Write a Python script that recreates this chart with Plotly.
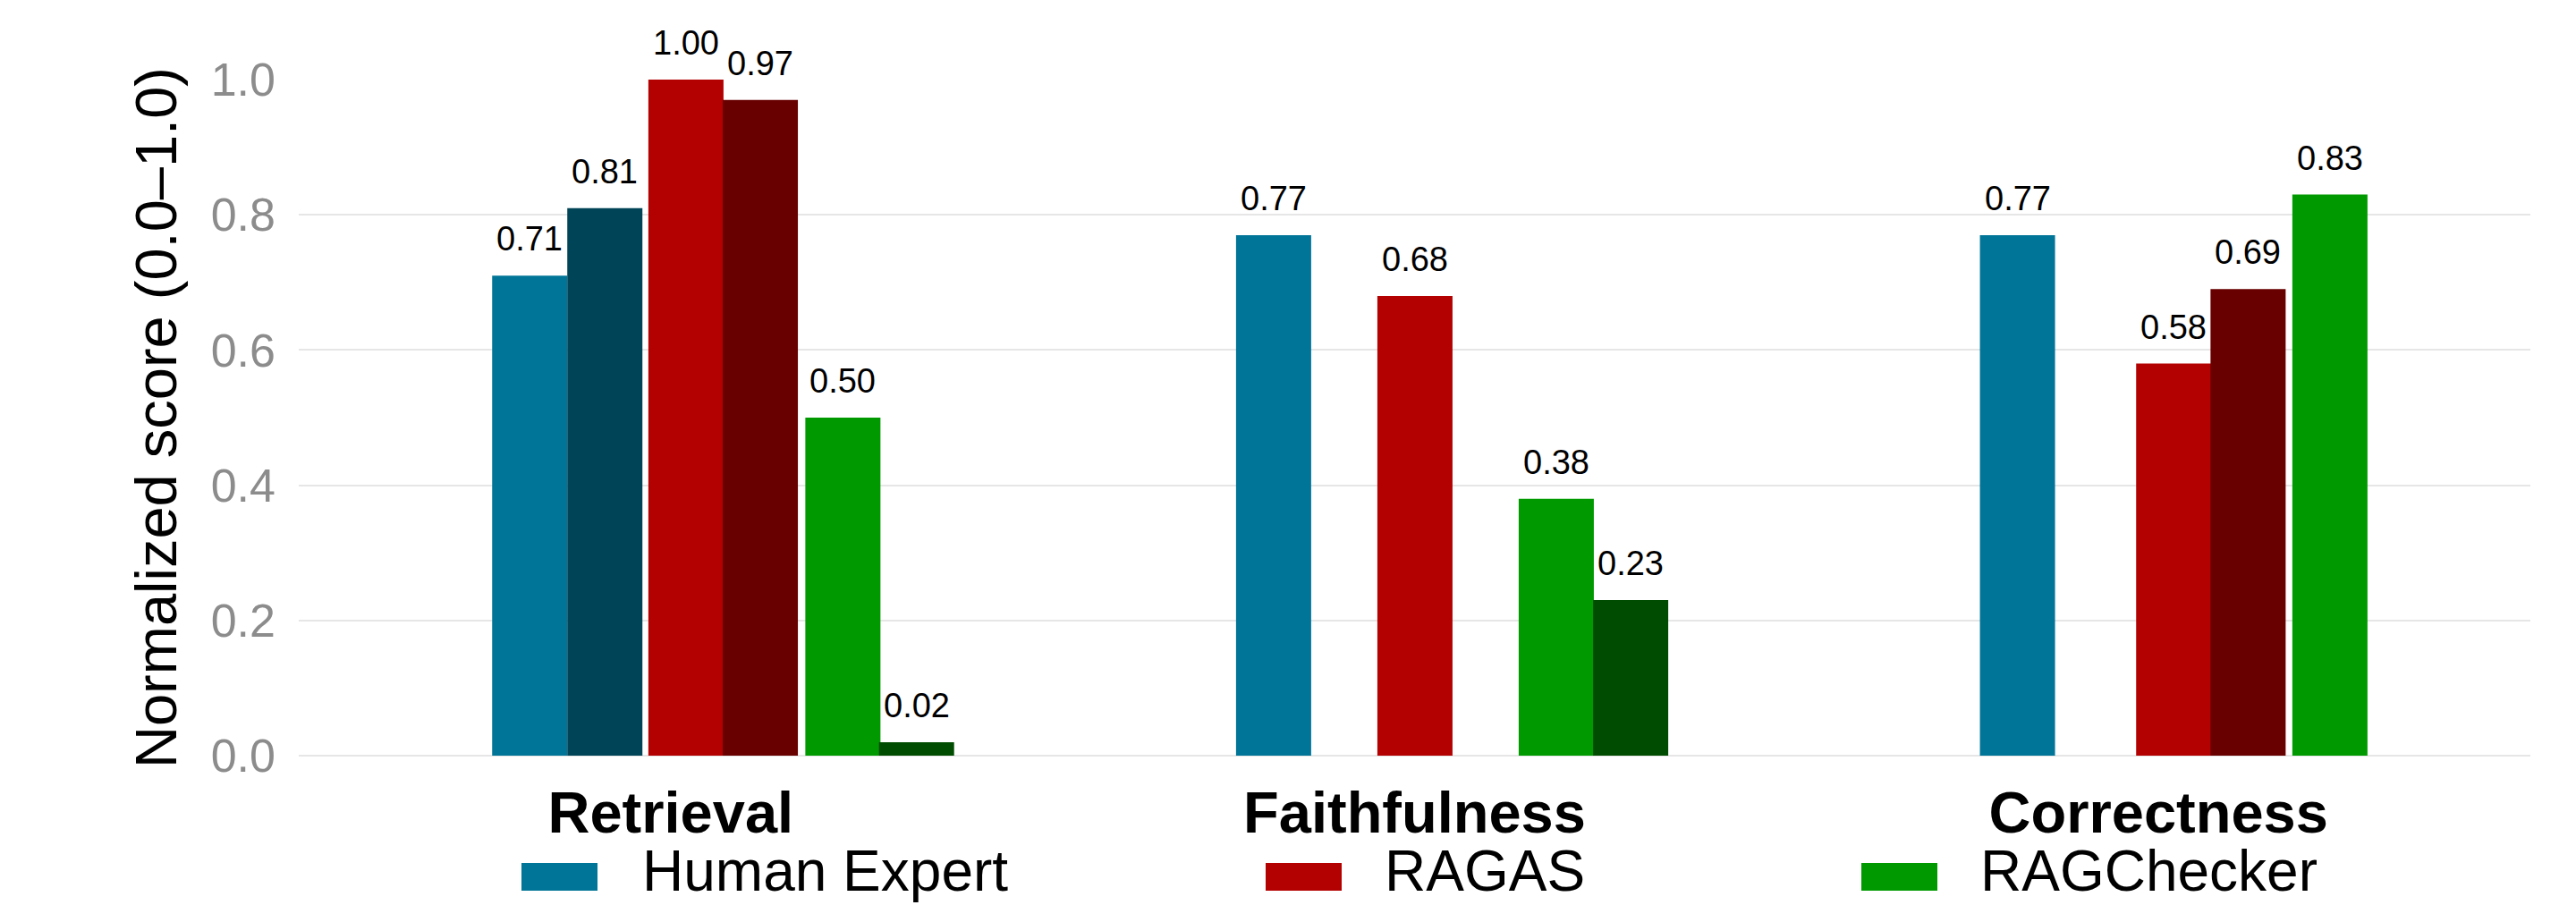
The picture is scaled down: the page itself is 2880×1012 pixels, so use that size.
import plotly.graph_objects as go

# ---------------- data ----------------
CATEGORIES = ["Retrieval", "Faithfulness", "Correctness"]

SERIES_NAMES = ["Human Expert", "Human Expert (2)", "RAGAS", "RAGAS (2)",
                "RAGChecker", "RAGChecker (2)"]
HUMAN_A = [0.71, 0.77, 0.77]
HUMAN_B = [0.81, None, None]
RAGAS_A = [1.00, 0.68, 0.58]
RAGAS_B = [0.97, None, 0.69]
RAGCHECKER_A = [0.50, 0.38, 0.83]
RAGCHECKER_B = [0.02, 0.23, None]
SERIES_VALUES = [HUMAN_A, HUMAN_B, RAGAS_A, RAGAS_B, RAGCHECKER_A, RAGCHECKER_B]

LEGEND_NAMES = ["Human Expert", "RAGAS", "RAGChecker"]
Y_TICKS = [0.0, 0.2, 0.4, 0.6, 0.8, 1.0]
Y_TITLE = "Normalized score (0.0\u20131.0)"

# ---------------- layout / style ----------------
COLORS = ["#017598", "#004457", "#B30000", "#680000", "#009A00", "#004C00"]
LEGEND_COLORS = ["#017598", "#B30000", "#009A00"]
# slot offsets (category units) of each series' bar, per category
SLOT_OFFSETS = [
    [-0.240, -0.240, -0.240],
    [-0.139, 0.0, -0.139],
    [-0.030, -0.050, -0.030],
    [0.070, 0.0, 0.070],
    [0.181, 0.140, 0.180],
    [0.280, 0.240, 0.280],
]
BAR_W = 0.101
FONT = "Liberation Sans, Arial, sans-serif"

W, H = 2880, 1012
ML, MR, MT, MB = 334, 51, 89, 167
PW, PH = W - ML - MR, H - MT - MB

fig = go.Figure()
annotations = []
for s, (name, vals) in enumerate(zip(SERIES_NAMES, SERIES_VALUES)):
    fig.add_trace(go.Bar(
        x=CATEGORIES, y=vals, name=name,
        offset=SLOT_OFFSETS[s], width=BAR_W,
        marker=dict(color=COLORS[s], line=dict(width=0)),
        showlegend=False, hoverinfo="y+name",
    ))
    for c, v in enumerate(vals):
        if v is None:
            continue
        annotations.append(dict(
            x=c + SLOT_OFFSETS[s][c] + BAR_W / 2, y=v, xref="x", yref="y",
            text=f"{v:.2f}", showarrow=False, yanchor="bottom", xanchor="center",
            yshift=18, font=dict(family=FONT, size=38, color="#000000"),
        ))

# custom legend (large swatches)
LEG_SWATCH_X = [583, 1415, 2081]
LEG_TEXT_X = [717, 1547, 2213]
shapes = []
def px_x(px):
    return (px - ML) / PW
def px_y(py):
    return (H - MB - py) / PH
for i, nm in enumerate(LEGEND_NAMES):
    shapes.append(dict(type="rect", xref="paper", yref="paper",
                       x0=px_x(LEG_SWATCH_X[i]), x1=px_x(LEG_SWATCH_X[i] + 85),
                       y0=px_y(996), y1=px_y(965),
                       fillcolor=LEGEND_COLORS[i], line=dict(width=0)))
    annotations.append(dict(x=px_x(LEG_TEXT_X[i]), y=px_y(974), xref="paper", yref="paper",
                            text=nm, showarrow=False, xanchor="left", yanchor="middle",
                            borderpad=0,
                            font=dict(family=FONT, size=64, color="#000000")))

fig.update_layout(
    width=W, height=H, barmode="overlay",
    margin=dict(l=ML, r=MR, t=MT, b=MB, autoexpand=False),
    paper_bgcolor="white", plot_bgcolor="white",
    font=dict(family=FONT),
    showlegend=False,
    annotations=annotations, shapes=shapes,
    xaxis=dict(
        type="category", range=[-0.5, 2.5], showgrid=False, zeroline=False,
        showline=False, ticks="", automargin=False,
        tickfont=dict(family=FONT, size=65, color="#000000", weight="bold"),
        ticklabelstandoff=20,
    ),
    yaxis=dict(
        range=[0, 1.0], tickvals=Y_TICKS, tickformat=".1f",
        showgrid=True, gridcolor="#E6E6E6", gridwidth=2,
        zeroline=True, zerolinecolor="#E6E6E6", zerolinewidth=2,
        showline=False, ticks="", automargin=False,
        tickfont=dict(family=FONT, size=52, color="#8C8C8C"),
        ticklabelstandoff=25,
        title=dict(text=Y_TITLE, font=dict(family=FONT, size=65, color="#000000"),
                   standoff=16),
    ),
)
for tr in fig.data:
    tr.cliponaxis = False

fig.write_html("out.html")
